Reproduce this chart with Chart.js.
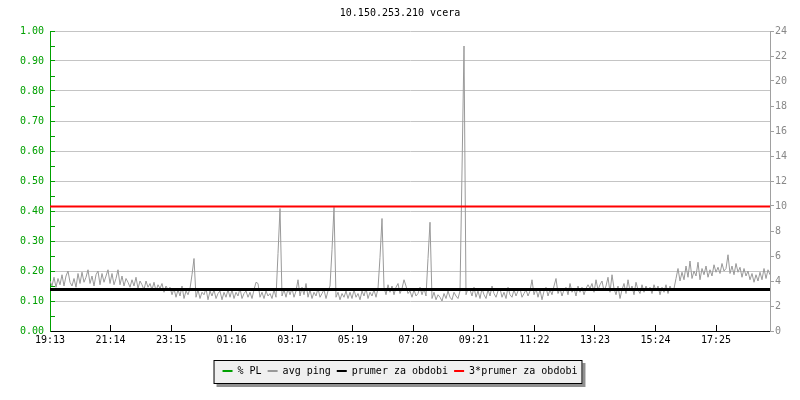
<!DOCTYPE html>
<html>
<head>
<meta charset="utf-8">
<title>10.150.253.210 vcera</title>
<script src="https://cdn.jsdelivr.net/npm/chart.js@4.4.1/dist/chart.umd.min.js"></script>
<style>
  html, body { margin: 0; padding: 0; background: #fff; }
  #wrap { width: 800px; height: 400px; }
</style>
</head>
<body>
<div id="wrap"><canvas id="ping-chart" width="800" height="400"></canvas></div>
<script>
// time axis: one day from 19:13, a label every 121.1 minutes
const timeLabels = ["19:13", "21:14", "23:15", "01:16", "03:17", "05:19",
  "07:20", "09:21", "11:22", "13:23", "15:24", "17:25"];
const tickStepMinutes = 121.1;
const periodMinutes = 1440;
const sampleMinutes = 4;

// avg ping [ms], one sample every 4 minutes (right axis)
const pingMs = [
  4.0,3.6,4.3,3.5,4.2,3.7,4.5,3.6,4.4,4.8,3.9,3.6,4.2,3.5,4.6,3.8,4.7,3.9,4.3,4.9,3.8,4.4,3.6,4.5,4.8,3.7,4.6,3.9,4.4,4.9,
  3.8,4.6,3.7,4.2,4.9,3.7,4.4,3.6,4.2,3.9,3.5,4.1,3.6,4.3,3.4,4.0,3.7,3.3,4.0,3.5,3.8,3.3,3.9,3.2,3.7,3.4,3.8,3.1,3.6,3.3,
  3.5,2.9,3.4,2.7,3.3,2.8,3.6,2.6,3.2,2.9,3.4,4.5,5.8,2.7,3.3,2.6,3.1,2.9,3.4,2.5,3.2,2.8,3.3,2.6,3.0,3.2,2.5,3.1,2.7,3.3,
  2.7,3.3,2.6,3.1,2.8,3.4,2.6,3.0,3.2,2.7,3.1,2.6,3.3,3.9,3.8,2.7,3.1,2.6,3.2,2.8,3.0,2.6,3.3,2.7,6.2,9.8,2.8,3.3,2.7,3.4,
  2.9,3.4,2.7,3.2,4.1,2.8,3.5,2.9,3.8,2.7,3.3,2.6,3.1,2.8,3.4,2.7,3.0,3.3,2.6,3.2,3.6,6.5,9.9,2.7,3.1,2.5,3.0,2.7,3.2,2.6,
  3.1,2.6,3.3,2.7,3.0,2.5,3.2,2.8,3.4,2.6,3.1,2.8,3.3,2.7,3.4,5.9,9.0,3.5,2.9,3.7,3.1,3.6,2.9,3.5,3.8,3.0,3.4,4.1,3.6,3.0,
  3.2,2.7,3.3,2.8,3.0,3.5,2.9,3.4,2.8,5.8,8.7,2.6,3.1,2.5,2.9,2.7,2.4,3.0,2.6,3.2,2.7,2.5,3.1,2.8,2.6,3.2,12.8,22.8,2.9,3.4,
  3.3,2.8,3.5,2.7,3.2,2.6,3.4,2.9,2.6,3.3,2.8,3.6,3.0,2.7,3.2,3.4,2.7,3.1,2.6,3.5,2.9,2.7,3.3,2.8,3.2,3.4,2.7,3.0,3.3,2.8,
  3.2,4.1,2.9,3.4,2.7,3.3,2.5,3.2,3.5,2.8,3.3,2.9,3.6,4.2,3.0,3.4,2.8,3.3,3.5,2.9,3.8,3.1,3.4,2.8,3.6,3.1,3.5,2.9,3.4,3.7,
  3.4,3.8,3.1,4.1,3.3,3.7,4.0,3.2,3.6,4.3,3.1,4.5,3.4,2.9,3.6,2.6,3.3,3.8,3.0,4.1,3.2,3.6,2.9,3.9,3.3,3.0,3.7,3.1,3.6,3.2,
  3.5,3.0,3.7,3.2,3.6,2.9,3.5,3.1,3.7,3.0,3.6,3.2,3.4,4.2,5.0,4.0,4.7,4.1,5.2,4.3,5.6,4.2,4.8,4.4,5.5,4.1,5.0,4.5,5.2,4.3,
  4.9,4.4,5.3,4.7,5.1,4.6,5.4,4.8,5.0,6.1,4.6,5.2,4.5,5.4,4.7,5.1,4.3,5.0,4.4,4.8,4.1,4.6,3.9,4.5,4.0,4.7,4.1,5.0,4.2,4.9,
  4.5
];

// % packet loss (left axis) - nothing lost this period
const packetLoss = [];

const averagePing = 3.32;
const tripleAverage = 9.96;

const green = "#00a000";
const pingGray = "#999999";
const axisGray = "#a0a0a0";

Chart.defaults.font.family = "'DejaVu Sans Mono', monospace";
Chart.defaults.font.size = 10;
Chart.defaults.color = "#000";

const legendFrame = {
  id: "legendFrame",
  beforeDraw(chart) {
    const boxes = chart.legend && chart.legend.legendHitBoxes;
    if (!boxes || !boxes.length) return;
    const ctx = chart.ctx;
    const left = Math.min(...boxes.map(b => b.left)) - 9;
    const right = Math.max(...boxes.map(b => b.left + b.width)) + 5;
    const mid = boxes[0].top + boxes[0].height / 2;
    const top = mid - 11;
    const bottom = mid + 13;
    ctx.save();
    ctx.fillStyle = "#909090";
    ctx.fillRect(left + 3, top + 3, right - left, bottom - top);
    ctx.fillStyle = "#f0f0f0";
    ctx.fillRect(left, top, right - left, bottom - top);
    ctx.strokeStyle = "#000";
    ctx.lineWidth = 1;
    ctx.strokeRect(left + 0.5, top + 0.5, right - left - 1, bottom - top - 1);
    ctx.restore();
  }
};

const legendItems = chart => Chart.defaults.plugins.legend.labels.generateLabels(chart).map(item => {
  item.fillStyle = item.strokeStyle;
  item.lineWidth = 0;
  return item;
});

new Chart(document.getElementById("ping-chart"), {
  type: "line",
  data: {
    datasets: [
      {
        label: "% PL",
        data: packetLoss.map((v, i) => ({ x: i * sampleMinutes, y: v })),
        borderColor: green,
        backgroundColor: green,
        borderWidth: 1,
        yAxisID: "y",
        order: 0
      },
      {
        label: "avg ping",
        data: pingMs.map((v, i) => ({ x: i * sampleMinutes, y: v })),
        borderColor: pingGray,
        backgroundColor: pingGray,
        borderWidth: 1,
        yAxisID: "y2",
        order: 3
      },
      {
        label: "prumer za obdobi",
        data: [{ x: 0, y: averagePing }, { x: periodMinutes, y: averagePing }],
        borderColor: "#000",
        backgroundColor: "#000",
        borderWidth: 3,
        yAxisID: "y2",
        order: 2
      },
      {
        label: "3*prumer za obdobi",
        data: [{ x: 0, y: tripleAverage }, { x: periodMinutes, y: tripleAverage }],
        borderColor: "#ff0000",
        backgroundColor: "#ff0000",
        borderWidth: 2,
        yAxisID: "y2",
        order: 1
      }
    ]
  },
  options: {
    responsive: false,
    animation: false,
    events: [],
    elements: { point: { radius: 0 }, line: { tension: 0 } },
    layout: { padding: { left: 0, right: 0, top: 0, bottom: 14 } },
    plugins: {
      title: {
        display: true,
        text: "10.150.253.210 vcera",
        color: "#000",
        font: { size: 10, weight: "normal" },
        padding: { top: 7, bottom: 12 }
      },
      legend: {
        position: "bottom",
        labels: {
          boxWidth: 10,
          boxHeight: 2,
          padding: 6,
          color: "#000",
          generateLabels: legendItems,
          sort: (a, b) => a.datasetIndex - b.datasetIndex
        }
      },
      tooltip: { enabled: false }
    },
    scales: {
      x: {
        type: "linear",
        min: 0,
        max: periodMinutes,
        afterBuildTicks(scale) {
          scale.ticks = timeLabels.map((t, i) => ({ value: i * tickStepMinutes }));
        },
        afterFit(scale) {
          scale.height = 400 - 14 - scale.chart.legend.height - 331;
        },
        ticks: {
          autoSkip: false,
          maxRotation: 0,
          padding: 9,
          color: "#000",
          callback: (v, i) => timeLabels[i]
        },
        grid: {
          drawOnChartArea: false,
          tickLength: -6,
          tickColor: "#000"
        },
        border: { color: "#000", width: 1 }
      },
      y: {
        position: "left",
        min: 0,
        max: 1,
        afterBuildTicks(scale) {
          scale.ticks = Array.from({ length: 21 }, (_, i) => ({ value: i / 20 }));
        },
        afterFit(scale) { scale.width = 50; },
        ticks: {
          padding: 11,
          color: green,
          callback: (v, i) => (i % 2 === 0 ? v.toFixed(2) : "")
        },
        grid: {
          color: ctx => (ctx.index % 2 === 0 ? "#c4c4c4" : "rgba(0,0,0,0)"),
          tickLength: -5,
          tickColor: green
        },
        border: { color: green, width: 1 }
      },
      y2: {
        position: "right",
        min: 0,
        max: 24,
        afterBuildTicks(scale) {
          scale.ticks = Array.from({ length: 25 }, (_, i) => ({ value: i }));
        },
        afterFit(scale) { scale.width = 30; },
        ticks: {
          padding: 1,
          color: "#888",
          callback: v => (v % 2 === 0 ? String(v) : "")
        },
        grid: {
          drawOnChartArea: false,
          tickLength: 4,
          tickColor: axisGray
        },
        border: { color: axisGray, width: 1 }
      }
    }
  },
  plugins: [legendFrame]
});
</script>
</body>
</html>
